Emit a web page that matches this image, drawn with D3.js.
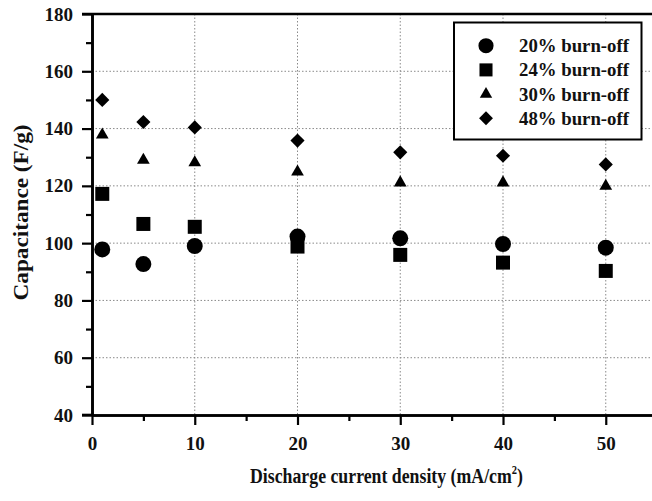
<!DOCTYPE html>
<html>
<head>
<meta charset="utf-8">
<script src="https://cdn.jsdelivr.net/npm/d3@7"></script>
<style>
  html, body { margin: 0; padding: 0; background: #fff; }
  svg { display: block; }
  text { font-family: "Liberation Serif", "Times New Roman", serif; font-weight: bold; fill: #111; }
</style>
</head>
<body>
<svg id="chart" width="652" height="501"></svg>
<script>
// ---- data ----
const currentDensity = [1, 5, 10, 20, 30, 40, 50];
const burnOff20 = [97.8, 92.7, 99.0, 102.3, 101.7, 99.7, 98.4];
const burnOff24 = [117.2, 106.7, 105.7, 98.8, 95.9, 93.2, 90.3];
const burnOff30 = [137.8, 129.0, 128.1, 124.9, 121.1, 121.1, 119.9];
const burnOff48 = [150.0, 142.3, 140.4, 135.8, 131.7, 130.5, 127.5];
const seriesNames = ["20% burn-off", "24% burn-off", "30% burn-off", "48% burn-off"];
const xTicks = [0, 10, 20, 30, 40, 50];
const xMinorTicks = [5, 15, 25, 35, 45];
const yTicks = [40, 60, 80, 100, 120, 140, 160, 180];
const yMinorTicks = [50, 70, 90, 110, 130, 150, 170];

const svg = d3.select("#chart");
const x = d3.scaleLinear().domain([0, 54.5]).range([92, 652]);
const y = d3.scaleLinear().domain([40, 180]).range([415, 14]);

// gridlines
const grid = svg.append("g").attr("stroke", "#8a8a8a").attr("stroke-width", 1).attr("stroke-dasharray", "1.5,2");
grid.selectAll("line.h").data(yTicks.filter(v => v > 40 && v < 180)).join("line")
  .attr("x1", x(0)).attr("x2", 652).attr("y1", d => y(d)).attr("y2", d => y(d));
grid.selectAll("line.v").data(xTicks.filter(v => v > 0)).join("line")
  .attr("x1", d => x(d)).attr("x2", d => x(d)).attr("y1", y(180)).attr("y2", y(40));

// axes
const axisFont = "19px";
const bottomMajor = svg.append("g").attr("transform", `translate(0,${y(40)})`)
  .call(d3.axisBottom(x).tickValues(xTicks).tickSize(10).tickPadding(12).tickSizeOuter(0).tickFormat(d3.format("d")));
const bottomMinor = svg.append("g").attr("transform", `translate(0,${y(40)})`)
  .call(d3.axisBottom(x).tickValues(xMinorTicks).tickSize(6).tickSizeOuter(0).tickFormat(""));
const leftMajor = svg.append("g").attr("transform", `translate(${x(0)},0)`)
  .call(d3.axisLeft(y).tickValues(yTicks).tickSize(10).tickPadding(9).tickSizeOuter(0).tickFormat(d3.format("d")));
const leftMinor = svg.append("g").attr("transform", `translate(${x(0)},0)`)
  .call(d3.axisLeft(y).tickValues(yMinorTicks).tickSize(6).tickSizeOuter(0).tickFormat(""));
[bottomMajor, bottomMinor, leftMajor, leftMinor].forEach(g => {
  g.select(".domain").attr("stroke", "#000").attr("stroke-width", 2.6);
  g.selectAll(".tick line").attr("stroke", "#000").attr("stroke-width", 2.2);
  g.selectAll(".tick text").style("font-size", axisFont).style("font-family", "Liberation Serif").style("font-weight", "bold").attr("fill", "#111");
});
svg.append("line").attr("x1", x(0) - 10).attr("x2", x(0)).attr("y1", y(40)).attr("y2", y(40)).attr("stroke", "#000").attr("stroke-width", 2.6);
svg.append("line").attr("x1", x(0) - 10).attr("x2", 652).attr("y1", y(180)).attr("y2", y(180)).attr("stroke", "#000").attr("stroke-width", 2.6);

// axis titles
const xg = svg.append("g");
const xt = xg.append("text").style("font-size", "22px");
xt.append("tspan").text("Discharge current density (mA/cm");
xt.append("tspan").attr("dy", -9).style("font-size", "13px").text("2");
xt.append("tspan").attr("dy", 9).text(")");
const xw = xt.node().getComputedTextLength();
xg.attr("transform", `translate(250,483) scale(${273 / xw},1)`);

const yg = svg.append("g");
const yt = yg.append("text").style("font-size", "22px").attr("text-anchor", "middle").text("Capacitance (F/g)");
const yw = yt.node().getComputedTextLength();
yg.attr("transform", `translate(28,212.5) rotate(-90) scale(${176 / yw},1)`);

// symbols
const circleSym = d3.symbol().type(d3.symbolCircle);
const squareSym = d3.symbol().type(d3.symbolSquare);
const triSym = d3.symbol().type(d3.symbolTriangle);
const series = [
  { vals: burnOff20, path: circleSym.size(200)(), rot: 0, legPath: circleSym.size(180)() },
  { vals: burnOff24, path: squareSym.size(196)(), rot: 0, legPath: squareSym.size(170)() },
  { vals: burnOff30, path: triSym.size(70)(), rot: 0, legPath: triSym.size(66)() },
  { vals: burnOff48, path: squareSym.size(100)(), rot: 45, legPath: squareSym.size(96)() }
];
series.forEach(s => {
  svg.append("g").selectAll("path").data(currentDensity.map((c, i) => [c, s.vals[i]])).join("path")
    .attr("d", s.path).attr("fill", "#000")
    .attr("transform", d => `translate(${x(d[0])},${y(d[1])}) rotate(${s.rot})`);
});

// legend
const leg = svg.append("g");
leg.append("rect").attr("x", 454).attr("y", 22.5).attr("width", 187.5).attr("height", 117)
  .attr("fill", "#fff").attr("stroke", "#000").attr("stroke-width", 2);
seriesNames.forEach((name, i) => {
  const cy = 45.7 + i * 24.2;
  leg.append("path").attr("d", series[i].legPath).attr("fill", "#000")
    .attr("transform", `translate(486,${cy}) rotate(${series[i].rot})`);
  leg.append("text").attr("x", 519).attr("y", cy + 6.5).style("font-size", "18.5px")
    .attr("textLength", 110).attr("lengthAdjust", "spacingAndGlyphs").text(name);
});
</script>
</body>
</html>
